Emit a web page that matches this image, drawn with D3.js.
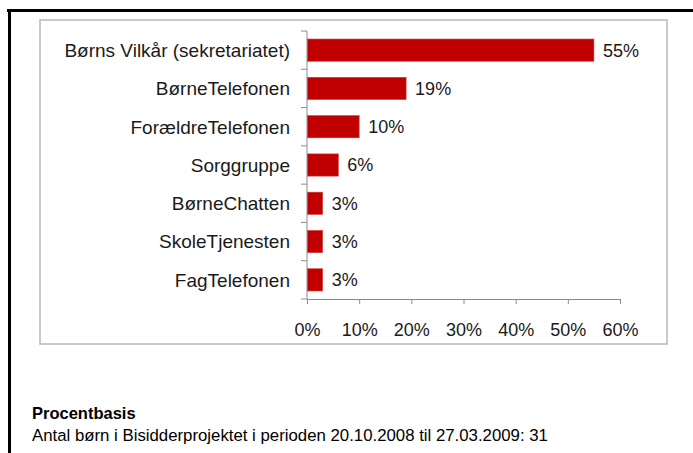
<!DOCTYPE html>
<html>
<head>
<meta charset="utf-8">
<script src="https://cdn.jsdelivr.net/npm/d3@7"></script>
<style>
  html, body { margin: 0; padding: 0; background: #fff; }
  svg { display: block; font-family: "Liberation Sans", Arial, sans-serif; }
</style>
</head>
<body>
<svg id="chart" width="693" height="453"></svg>
<script>
// kategorier og andele (procent af børn)
const categories = [
  'Børns Vilkår (sekretariatet)', 'BørneTelefonen', 'ForældreTelefonen',
  'Sorggruppe', 'BørneChatten', 'SkoleTjenesten', 'FagTelefonen'
];
const shares = [0.55, 0.19, 0.10, 0.06, 0.03, 0.03, 0.03];
const xTicks = [0, 0.1, 0.2, 0.3, 0.4, 0.5, 0.6];
const noteTitle = 'Procentbasis';
const noteText = 'Antal børn i Bisidderprojektet i perioden 20.10.2008 til 27.03.2009: 31';

const svg = d3.select('#chart');
const RED = '#c00000', AXIS = '#8c8c8c', INK = '#1a1a1a';

// slide-ramme (sort) og diagramramme (grå)
svg.append('line').attr('x1', 7).attr('x2', 693).attr('y1', 10.5).attr('y2', 10.5)
  .attr('stroke', '#000').attr('stroke-width', 3);
svg.append('line').attr('x1', 9.5).attr('x2', 9.5).attr('y1', 9).attr('y2', 453)
  .attr('stroke', '#000').attr('stroke-width', 3);
svg.append('rect').attr('x', 40).attr('y', 20).attr('width', 627).attr('height', 324)
  .attr('fill', 'none').attr('stroke', '#b8b8b8').attr('stroke-width', 1.5);

const x = d3.scaleLinear().domain([0, 0.6]).range([307, 620]);
const y = d3.scaleBand().domain(categories).range([31, 299]).paddingInner(0.42).paddingOuter(0.21);
const pct = d3.format('.0%');

// x-akse
const xAxis = svg.append('g').attr('transform', 'translate(0,299)')
  .call(d3.axisBottom(x).tickValues(xTicks).tickFormat(pct).tickSize(5).tickSizeOuter(0));
xAxis.select('.domain').attr('stroke', AXIS);
xAxis.selectAll('.tick line').attr('stroke', AXIS);
xAxis.selectAll('.tick text').attr('fill', INK).attr('font-size', 18).attr('y', 0)
  .attr('dy', 37).attr('font-family', '"Liberation Sans", Arial, sans-serif');

// y-akse: streger mellem kategorierne
const bounds = d3.range(categories.length + 1).map(i => 31 + i * (268 / categories.length));
svg.append('line').attr('x1', 307).attr('x2', 307).attr('y1', 31).attr('y2', 299).attr('stroke', AXIS);
svg.append('g').selectAll('line').data(bounds).join('line')
  .attr('x1', 301).attr('x2', 307).attr('y1', d => d).attr('y2', d => d).attr('stroke', AXIS);

// søjler
svg.append('g').selectAll('rect').data(shares).join('rect')
  .attr('x', x(0) + 0.5)
  .attr('y', (d, i) => y(categories[i]))
  .attr('width', d => x(d) - x(0) - 0.5)
  .attr('height', y.bandwidth())
  .attr('fill', RED)
  .attr('stroke', '#d23a3a').attr('stroke-width', 0.6);

// værdier
svg.append('g').selectAll('text').data(shares).join('text')
  .attr('x', d => x(d) + 9)
  .attr('y', (d, i) => y(categories[i]) + y.bandwidth() / 2)
  .attr('dy', '0.36em')
  .attr('font-size', 18).attr('fill', INK)
  .text(pct);

// kategorinavne
svg.append('g').selectAll('text').data(categories).join('text')
  .attr('x', 290)
  .attr('y', d => y(d) + y.bandwidth() / 2)
  .attr('dy', '0.36em')
  .attr('text-anchor', 'end')
  .attr('font-size', 19).attr('fill', INK)
  .text(d => d);

// procentbasis
svg.append('text').attr('x', 32).attr('y', 419).attr('font-size', 16.5)
  .attr('font-weight', 'bold').attr('fill', '#000').text(noteTitle);
svg.append('text').attr('x', 32).attr('y', 441).attr('font-size', 16.8)
  .attr('fill', '#000').text(noteText);
</script>
</body>
</html>
